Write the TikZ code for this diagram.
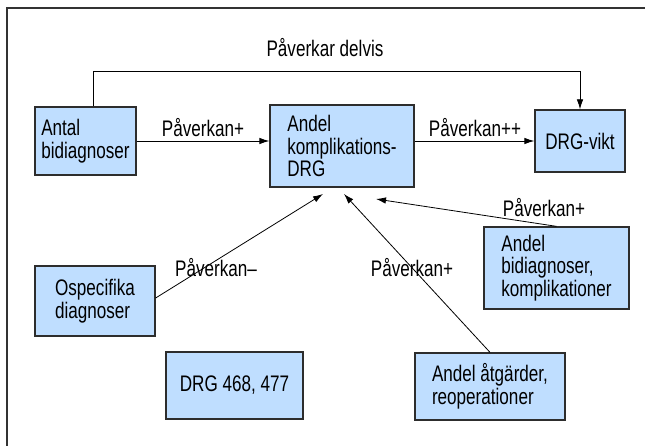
\documentclass[tikz,border=0pt]{standalone}
\usepackage{fontspec}
\setmainfont[FakeStretch=0.76]{Liberation Sans}
\usetikzlibrary{arrows.meta,calc}
\definecolor{boxfill}{RGB}{191,222,255}
\definecolor{boxline}{RGB}{45,45,45}
\tikzset{
  box/.style={draw=boxline, line width=1.3pt, fill=boxfill, align=left, inner sep=0pt,
    font=\fontsize{22.5}{22.5}\selectfont},
  lbl/.style={font=\fontsize{22.5}{22.5}\selectfont, inner sep=0pt},
  conn/.style={line width=0.8pt, -{Latex[length=10pt,width=6.5pt]}},
  frameline/.style={line width=1.6pt, draw=black!80}
}
\begin{document}
\begin{tikzpicture}[x=1pt,y=-1pt]
\useasboundingbox (0,0) rectangle (645,446);
\coordinate (ftr) at (645,8);
\coordinate (ftl) at (7,8);
\coordinate (fbl) at (7,446);
\draw[frameline] (ftr) -- (ftl) -- (fbl);

\node[box, minimum width=101pt, minimum height=68pt] (antal) at (85.5,141) {Antal\\bidiagnoser};
\node[box, minimum width=144pt, minimum height=82pt] (komp) at (342,146) {Andel\\komplikations-\\DRG};
\node[box, minimum width=90pt, minimum height=62pt] (vikt) at (580,141) {DRG-vikt};
\node[box, minimum width=145pt, minimum height=82pt] (bid) at (556.5,268) {Andel\\bidiagnoser,\\komplikationer};
\node[box, minimum width=120pt, minimum height=70pt] (osp) at (95,301) {Ospecifika\\diagnoser};
\node[box, minimum width=137pt, minimum height=67pt] (drg) at (234.5,385.5) {DRG 468, 477};
\node[box, minimum width=150pt, minimum height=67pt] (atg) at (490,386.5) {Andel åtgärder,\\reoperationer};

\coordinate (topL) at (93,71);
\coordinate (topR) at (580,71);
\coordinate (tA) at (323,194);
\coordinate (tB) at (344,194);
\coordinate (tC) at (376,199);

\draw[conn] (antal.north -| topL) -- (topL) -- (topR) -- (vikt.north);
\draw[conn] (antal.east) -- (komp.west |- antal.east);
\draw[conn] (komp.east |- vikt.west) -- (vikt.west);
\draw[conn] (osp.east |- 0,298) -- (tA);
\draw[conn] (atg.north) -- (tB);
\draw[conn] (bid.north) -- (tC);

\node[lbl] (l0) at (325,48) {Påverkar delvis};
\node[lbl] (l1) at (203,128) {Påverkan+};
\node[lbl] (l2) at (475,128) {Påverkan++};
\node[lbl] (l3) at (544,208) {Påverkan+};
\node[lbl] (l4) at (216,268) {Påverkan–};
\node[lbl] (l5) at (412,268) {Påverkan+};
\end{tikzpicture}
\end{document}
